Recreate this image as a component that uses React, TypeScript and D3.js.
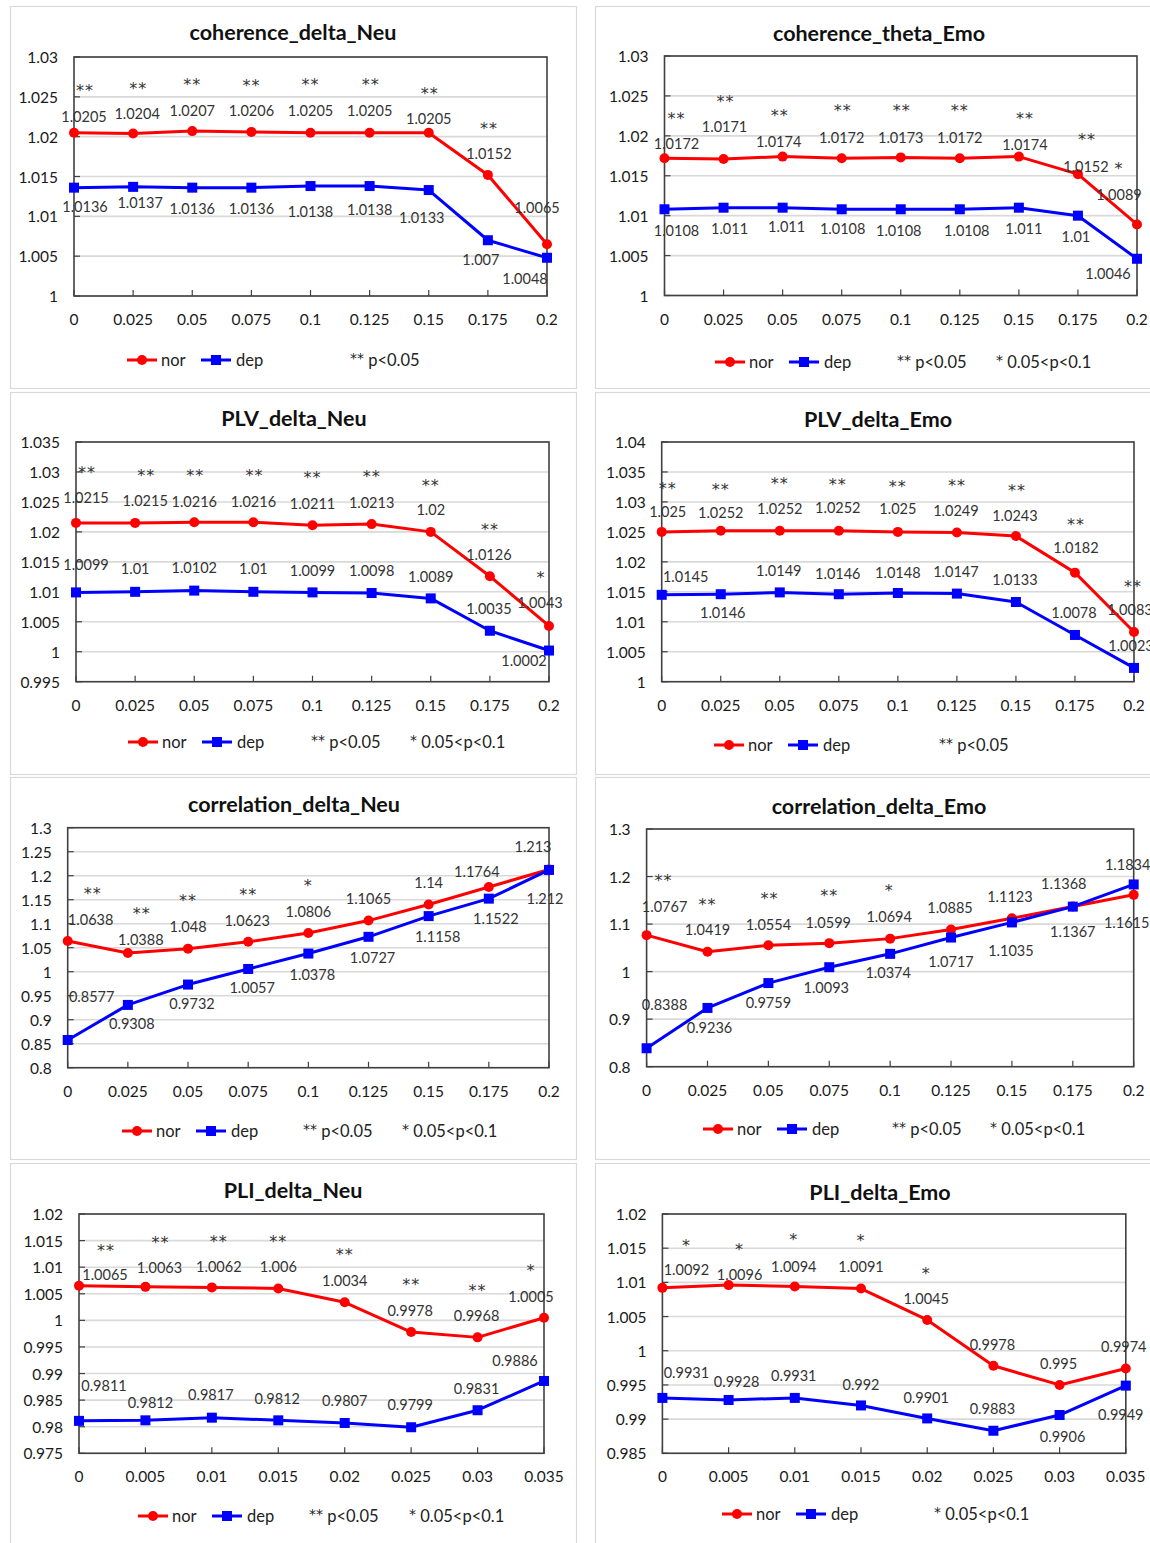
import React from "react";
import * as d3 from "d3";

// ---------- DATA ----------
const X_DELTA = [0, 0.025, 0.05, 0.075, 0.1, 0.125, 0.15, 0.175, 0.2];
const X_DELTA_LABELS = ["0", "0.025", "0.05", "0.075", "0.1", "0.125", "0.15", "0.175", "0.2"];
const X_PLI = [0, 0.005, 0.01, 0.015, 0.02, 0.025, 0.03, 0.035];
const X_PLI_LABELS = ["0", "0.005", "0.01", "0.015", "0.02", "0.025", "0.03", "0.035"];

const COH_DELTA_NEU_NOR = [1.0205, 1.0204, 1.0207, 1.0206, 1.0205, 1.0205, 1.0205, 1.0152, 1.0065];
const COH_DELTA_NEU_DEP = [1.0136, 1.0137, 1.0136, 1.0136, 1.0138, 1.0138, 1.0133, 1.007, 1.0048];
const COH_DELTA_NEU_SIG = ["**", "**", "**", "**", "**", "**", "**", "**", ""];
const COH_DELTA_NEU_TICKS = [1, 1.005, 1.01, 1.015, 1.02, 1.025, 1.03];

const COH_THETA_EMO_NOR = [1.0172, 1.0171, 1.0174, 1.0172, 1.0173, 1.0172, 1.0174, 1.0152, 1.0089];
const COH_THETA_EMO_DEP = [1.0108, 1.011, 1.011, 1.0108, 1.0108, 1.0108, 1.011, 1.01, 1.0046];
const COH_THETA_EMO_SIG = ["**", "**", "**", "**", "**", "**", "**", "**", "*"];
const COH_THETA_EMO_TICKS = [1, 1.005, 1.01, 1.015, 1.02, 1.025, 1.03];

const PLV_DELTA_NEU_NOR = [1.0215, 1.0215, 1.0216, 1.0216, 1.0211, 1.0213, 1.02, 1.0126, 1.0043];
const PLV_DELTA_NEU_DEP = [1.0099, 1.01, 1.0102, 1.01, 1.0099, 1.0098, 1.0089, 1.0035, 1.0002];
const PLV_DELTA_NEU_SIG = ["**", "**", "**", "**", "**", "**", "**", "**", "*"];
const PLV_DELTA_NEU_TICKS = [0.995, 1, 1.005, 1.01, 1.015, 1.02, 1.025, 1.03, 1.035];

const PLV_DELTA_EMO_NOR = [1.025, 1.0252, 1.0252, 1.0252, 1.025, 1.0249, 1.0243, 1.0182, 1.0083];
const PLV_DELTA_EMO_DEP = [1.0145, 1.0146, 1.0149, 1.0146, 1.0148, 1.0147, 1.0133, 1.0078, 1.0023];
const PLV_DELTA_EMO_SIG = ["**", "**", "**", "**", "**", "**", "**", "**", "**"];
const PLV_DELTA_EMO_TICKS = [1, 1.005, 1.01, 1.015, 1.02, 1.025, 1.03, 1.035, 1.04];

const COR_DELTA_NEU_NOR = [1.0638, 1.0388, 1.048, 1.0623, 1.0806, 1.1065, 1.14, 1.1764, 1.213];
const COR_DELTA_NEU_DEP = [0.8577, 0.9308, 0.9732, 1.0057, 1.0378, 1.0727, 1.1158, 1.1522, 1.212];
const COR_DELTA_NEU_SIG = ["**", "**", "**", "**", "*", "", "", "", ""];
const COR_DELTA_NEU_TICKS = [0.8, 0.85, 0.9, 0.95, 1, 1.05, 1.1, 1.15, 1.2, 1.25, 1.3];

const COR_DELTA_EMO_NOR = [1.0767, 1.0419, 1.0554, 1.0599, 1.0694, 1.0885, 1.1123, 1.1368, 1.1615];
const COR_DELTA_EMO_DEP = [0.8388, 0.9236, 0.9759, 1.0093, 1.0374, 1.0717, 1.1035, 1.1367, 1.1834];
const COR_DELTA_EMO_SIG = ["**", "**", "**", "**", "*", "", "", "", ""];
const COR_DELTA_EMO_TICKS = [0.8, 0.9, 1, 1.1, 1.2, 1.3];

const PLI_DELTA_NEU_NOR = [1.0065, 1.0063, 1.0062, 1.006, 1.0034, 0.9978, 0.9968, 1.0005];
const PLI_DELTA_NEU_DEP = [0.9811, 0.9812, 0.9817, 0.9812, 0.9807, 0.9799, 0.9831, 0.9886];
const PLI_DELTA_NEU_SIG = ["**", "**", "**", "**", "**", "**", "**", "*"];
const PLI_DELTA_NEU_TICKS = [0.975, 0.98, 0.985, 0.99, 0.995, 1, 1.005, 1.01, 1.015, 1.02];

const PLI_DELTA_EMO_NOR = [1.0092, 1.0096, 1.0094, 1.0091, 1.0045, 0.9978, 0.995, 0.9974];
const PLI_DELTA_EMO_DEP = [0.9931, 0.9928, 0.9931, 0.992, 0.9901, 0.9883, 0.9906, 0.9949];
const PLI_DELTA_EMO_SIG = ["*", "*", "*", "*", "*", "", "", ""];
const PLI_DELTA_EMO_TICKS = [0.985, 0.99, 0.995, 1, 1.005, 1.01, 1.015, 1.02];

const SERIES_NAMES = ["nor", "dep"];
const SIG_LEGEND_2: [string, string] = ["**", " p<0.05"];
const SIG_LEGEND_1: [string, string] = ["*", " 0.05<p<0.1"];

// ---------- LAYOUT ----------
type Off = [number, number];
interface Panel {
  title: string;
  x: number[];
  xLabels: string[];
  nor: number[];
  dep: number[];
  sig: string[];
  ticks: number[];
  frame: [number, number, number, number];
  plot: { l: number; r: number; t: number; b: number };
  titlePos: [number, number];
  norOff: Off[];
  depOff: Off[];
  sigOff: Off[];
  legend: { x0: number; y: number; sig: [[string, string], number][] };
}

const FONT = "Lato, 'Open Sans', sans-serif";
const STAR_FONT = "'DejaVu Sans', sans-serif";
const RED = "#ff0000";
const BLUE = "#0000ff";

const panels: Panel[] = [
  {
    title: "coherence_delta_Neu", x: X_DELTA, xLabels: X_DELTA_LABELS,
    nor: COH_DELTA_NEU_NOR, dep: COH_DELTA_NEU_DEP, sig: COH_DELTA_NEU_SIG, ticks: COH_DELTA_NEU_TICKS,
    frame: [10, 6, 566, 382], plot: { l: 74, r: 547, t: 57, b: 296 }, titlePos: [293, 32],
    norOff: [[10, -16], [4, -20], [0, -21], [0, -21], [0, -22], [0, -22], [0, -14], [1, -21], [-10, -37]],
    sigOff: [[11, -45], [5, -48], [0, -50], [0, -50], [0, -51], [1, -51], [1, -42], [1, -50], [0, 0]],
    depOff: [[11, 19], [7, 16], [0, 21], [0, 21], [0, 25], [0, 23], [-7, 27], [-7, 19], [-22, 21]],
    legend: { x0: 127, y: 360, sig: [[SIG_LEGEND_2, 350]] },
  },
  {
    title: "coherence_theta_Emo", x: X_DELTA, xLabels: X_DELTA_LABELS,
    nor: COH_THETA_EMO_NOR, dep: COH_THETA_EMO_DEP, sig: COH_THETA_EMO_SIG, ticks: COH_THETA_EMO_TICKS,
    frame: [595, 6, 568, 382], plot: { l: 664.5, r: 1137, t: 56, b: 295.5 }, titlePos: [879, 33],
    norOff: [[12, -15], [1, -32], [-4, -15], [0, -21], [0, -20], [0, -21], [6, -12], [8, -8], [-18, -30]],
    sigOff: [[12, -43], [2, -61], [-3, -44], [1, -51], [1, -50], [0, -51], [6, -41], [9, -38], [-18, -59]],
    depOff: [[12, 21], [6, 21], [4, 19], [1, 19], [-2, 21], [7, 21], [5, 21], [-2, 21], [-29, 15]],
    legend: { x0: 715, y: 362, sig: [[SIG_LEGEND_2, 897], [SIG_LEGEND_1, 996]] },
  },
  {
    title: "PLV_delta_Neu", x: X_DELTA, xLabels: X_DELTA_LABELS,
    nor: PLV_DELTA_NEU_NOR, dep: PLV_DELTA_NEU_DEP, sig: PLV_DELTA_NEU_SIG, ticks: PLV_DELTA_NEU_TICKS,
    frame: [10, 392, 566, 382], plot: { l: 76, r: 549, t: 442, b: 681.7 }, titlePos: [294, 418],
    norOff: [[10, -25], [10, -22], [0, -21], [0, -21], [0, -22], [0, -22], [0, -22], [-1, -22], [-9, -23]],
    sigOff: [[11, -54], [11, -51], [1, -50], [1, -50], [0, -51], [0, -51], [0, -50], [0, -50], [-8, -52]],
    depOff: [[10, -28], [0, -23], [0, -23], [0, -23], [0, -22], [0, -23], [0, -22], [-1, -22], [-25, 10]],
    legend: { x0: 128, y: 742, sig: [[SIG_LEGEND_2, 311], [SIG_LEGEND_1, 410]] },
  },
  {
    title: "PLV_delta_Emo", x: X_DELTA, xLabels: X_DELTA_LABELS,
    nor: PLV_DELTA_EMO_NOR, dep: PLV_DELTA_EMO_DEP, sig: PLV_DELTA_EMO_SIG, ticks: PLV_DELTA_EMO_TICKS,
    frame: [595, 392, 568, 382], plot: { l: 661.7, r: 1134, t: 442, b: 681.7 }, titlePos: [878, 419],
    norOff: [[6, -20], [0, -18], [0, -22], [-1, -23], [0, -23], [-1, -22], [-1, -21], [1, -25], [-4, -22]],
    sigOff: [[6, -47], [0, -44], [0, -50], [-1, -49], [0, -49], [0, -50], [1, -49], [1, -51], [-1, -49]],
    depOff: [[24, -18], [2, 18], [-1, -22], [-1, -21], [0, -21], [-1, -22], [-1, -22], [-1, -22], [-3, -22]],
    legend: { x0: 714, y: 745, sig: [[SIG_LEGEND_2, 939]] },
  },
  {
    title: "correlation_delta_Neu", x: X_DELTA, xLabels: X_DELTA_LABELS,
    nor: COR_DELTA_NEU_NOR, dep: COR_DELTA_NEU_DEP, sig: COR_DELTA_NEU_SIG, ticks: COR_DELTA_NEU_TICKS,
    frame: [10, 777, 566, 382], plot: { l: 67.7, r: 549, t: 827.7, b: 1067.7 }, titlePos: [294, 804],
    norOff: [[23, -22], [13, -14], [0, -22], [-1, -21], [0, -22], [0, -22], [0, -22], [-12, -16], [-16, -23]],
    sigOff: [[25, -51], [14, -43], [0, -51], [0, -51], [0, -51], [0, 0], [0, 0], [0, 0], [0, 0]],
    depOff: [[24, -44], [4, 19], [4, 19], [4, 19], [4, 21], [4, 21], [9, 20], [7, 20], [-4, 29]],
    legend: { x0: 122, y: 1131, sig: [[SIG_LEGEND_2, 303], [SIG_LEGEND_1, 402]] },
  },
  {
    title: "correlation_delta_Emo", x: X_DELTA, xLabels: X_DELTA_LABELS,
    nor: COR_DELTA_EMO_NOR, dep: COR_DELTA_EMO_DEP, sig: COR_DELTA_EMO_SIG, ticks: COR_DELTA_EMO_TICKS,
    frame: [595, 777, 568, 382], plot: { l: 646.6, r: 1133.7, t: 829, b: 1066.7 }, titlePos: [879, 806],
    norOff: [[18, -29], [0, -22], [0, -21], [-1, -21], [-1, -22], [-1, -22], [-2, -22], [-9, -23], [-7, 28]],
    sigOff: [[17, -58], [0, -51], [1, -50], [0, -51], [-1, -51], [0, 0], [0, 0], [0, 0], [0, 0]],
    depOff: [[18, -44], [2, 20], [0, 19], [-3, 20], [-2, 19], [0, 24], [-1, 28], [0, 25], [-6, -20]],
    legend: { x0: 703, y: 1129, sig: [[SIG_LEGEND_2, 892], [SIG_LEGEND_1, 990]] },
  },
  {
    title: "PLI_delta_Neu", x: X_PLI, xLabels: X_PLI_LABELS,
    nor: PLI_DELTA_NEU_NOR, dep: PLI_DELTA_NEU_DEP, sig: PLI_DELTA_NEU_SIG, ticks: PLI_DELTA_NEU_TICKS,
    frame: [10, 1163, 566, 385], plot: { l: 79, r: 544, t: 1214, b: 1453.3 }, titlePos: [293, 1190],
    norOff: [[26, -11], [14, -19], [7, -21], [0, -22], [0, -22], [-1, -22], [-1, -22], [-13, -21]],
    sigOff: [[27, -39], [15, -48], [7, -49], [0, -50], [0, -51], [0, -51], [0, -50], [-13, -50]],
    depOff: [[25, -35], [5, -18], [-1, -23], [-1, -22], [0, -22], [-1, -23], [-1, -22], [-29, -20]],
    legend: { x0: 138, y: 1516, sig: [[SIG_LEGEND_2, 309], [SIG_LEGEND_1, 409]] },
  },
  {
    title: "PLI_delta_Emo", x: X_PLI, xLabels: X_PLI_LABELS,
    nor: PLI_DELTA_EMO_NOR, dep: PLI_DELTA_EMO_DEP, sig: PLI_DELTA_EMO_SIG, ticks: PLI_DELTA_EMO_TICKS,
    frame: [595, 1163, 568, 385], plot: { l: 662.4, r: 1125.8, t: 1214, b: 1453.3 }, titlePos: [880, 1192],
    norOff: [[24, -18], [11, -11], [-1, -20], [0, -22], [-1, -21], [-1, -21], [-1, -21], [-2, -22]],
    sigOff: [[24, -46], [11, -39], [-1, -50], [0, -51], [-1, -50], [0, 0], [0, 0], [0, 0]],
    depOff: [[24, -25], [8, -18], [-1, -22], [0, -21], [-1, -21], [-1, -22], [3, 21], [-5, 29]],
    legend: { x0: 722, y: 1514, sig: [[SIG_LEGEND_1, 934]] },
  },
];

const fmt = (v: number) => String(+v.toFixed(4));

const LABEL_FS = 14.5;
const STAR_FS = 16;
const TICK_FS = 15.5;
const LEGEND_FS = 16.5;
const TITLE_FS = 21.5;

function Marker({ kind, x, y }: { kind: "circle" | "square"; x: number; y: number }) {
  if (kind === "circle") return <circle cx={x} cy={y} r={5} fill={RED} />;
  return <rect x={x - 5} y={y - 5} width={10} height={10} fill={BLUE} />;
}

function ChartPanel({ p }: { p: Panel }) {
  const { l, r, t, b } = p.plot;
  const xs = d3.scaleLinear().domain([p.x[0], p.x[p.x.length - 1]]).range([l, r]);
  const ys = d3.scaleLinear().domain([p.ticks[0], p.ticks[p.ticks.length - 1]]).range([b, t]);
  const line = d3
    .line<number>()
    .x((_, i) => xs(p.x[i]))
    .y((d) => ys(d));
  const series = [
    { vals: p.nor, color: RED, kind: "circle" as const, off: p.norOff },
    { vals: p.dep, color: BLUE, kind: "square" as const, off: p.depOff },
  ];
  const lg = p.legend;
  return (
    <g>
      <rect x={p.frame[0] + 0.5} y={p.frame[1] + 0.5} width={p.frame[2]} height={p.frame[3]} fill="#fff" stroke="#d9d9d9" strokeWidth={1.2} />
      <text x={p.titlePos[0]} y={p.titlePos[1]} textAnchor="middle" dominantBaseline="central" fontFamily={FONT} fontWeight="bold" fontSize={TITLE_FS} fill="#111">
        {p.title}
      </text>
      {p.ticks.map((tv, i) => (
        <line key={"g" + i} x1={l} x2={r} y1={ys(tv)} y2={ys(tv)} stroke="#d9d9d9" strokeWidth={1.6} />
      ))}
      {p.ticks.map((tv, i) => (
        <line key={"yt" + i} x1={l} x2={l + 6} y1={ys(tv)} y2={ys(tv)} stroke="#404040" strokeWidth={1.2} />
      ))}
      {p.x.map((xv, i) => (
        <line key={"xt" + i} x1={xs(xv)} x2={xs(xv)} y1={b} y2={b - 6} stroke="#404040" strokeWidth={1.2} />
      ))}
      <rect x={l} y={t} width={r - l} height={b - t} fill="none" stroke="#404040" strokeWidth={1.6} />
      {p.ticks.map((tv, i) => (
        <text key={"yl" + i} x={l - 16} y={ys(tv)} textAnchor="end" dominantBaseline="central" fontFamily={FONT} fontSize={TICK_FS} fill="#1a1a1a">
          {fmt(tv)}
        </text>
      ))}
      {p.x.map((xv, i) => (
        <text key={"xl" + i} x={xs(xv)} y={b + 23} textAnchor="middle" dominantBaseline="central" fontFamily={FONT} fontSize={TICK_FS} fill="#1a1a1a">
          {p.xLabels[i]}
        </text>
      ))}
      {series.map((s, si) => (
        <path key={"ln" + si} d={line(s.vals) || ""} fill="none" stroke={s.color} strokeWidth={3} strokeLinejoin="round" />
      ))}
      {series.map((s, si) =>
        s.vals.map((v, i) => <Marker key={"m" + si + "-" + i} kind={s.kind} x={xs(p.x[i])} y={ys(v)} />)
      )}
      {series.map((s, si) =>
        s.vals.map((v, i) => (
          <text
            key={"vl" + si + "-" + i}
            x={xs(p.x[i]) + s.off[i][0]}
            y={ys(v) + s.off[i][1]}
            textAnchor="middle"
            dominantBaseline="central"
            fontFamily={FONT}
            fontSize={LABEL_FS}
            fill="#333"
          >
            {fmt(v)}
          </text>
        ))
      )}
      {p.sig.map((sg, i) =>
        sg ? (
          <text
            key={"sg" + i}
            x={xs(p.x[i]) + p.sigOff[i][0]}
            y={ys(p.nor[i]) + p.sigOff[i][1] + STAR_FS * 0.55}
            textAnchor="middle"
            fontFamily={STAR_FONT}
            fontSize={STAR_FS}
            letterSpacing={1}
            fill="#333"
          >
            {sg}
          </text>
        ) : null
      )}
      <g fontFamily={FONT} fontSize={LEGEND_FS} fill="#222">
        <line x1={lg.x0} x2={lg.x0 + 30} y1={lg.y} y2={lg.y} stroke={RED} strokeWidth={3} />
        <Marker kind="circle" x={lg.x0 + 15} y={lg.y} />
        <text x={lg.x0 + 34} y={lg.y} dominantBaseline="central">{SERIES_NAMES[0]}</text>
        <line x1={lg.x0 + 74} x2={lg.x0 + 104} y1={lg.y} y2={lg.y} stroke={BLUE} strokeWidth={3} />
        <Marker kind="square" x={lg.x0 + 89} y={lg.y} />
        <text x={lg.x0 + 109} y={lg.y} dominantBaseline="central">{SERIES_NAMES[1]}</text>
        {lg.sig.map(([[stars, txt], sx], i) => (
          <text key={"ls" + i} x={sx} y={lg.y} dominantBaseline="central">
            <tspan fontFamily={STAR_FONT} fontSize={14} dy={-2}>{stars}</tspan>
            <tspan dy={2}>{txt}</tspan>
          </text>
        ))}
      </g>
    </g>
  );
}

export default function App() {
  return (
    <svg
      width={1150}
      height={1543}
      viewBox="0 0 1150 1543"
      style={{ position: "absolute", left: 0, top: 0, background: "#fff" }}
    >
      <rect x={0} y={0} width={1150} height={1543} fill="#fff" />
      {panels.map((p, i) => (
        <ChartPanel key={i} p={p} />
      ))}
    </svg>
  );
}
